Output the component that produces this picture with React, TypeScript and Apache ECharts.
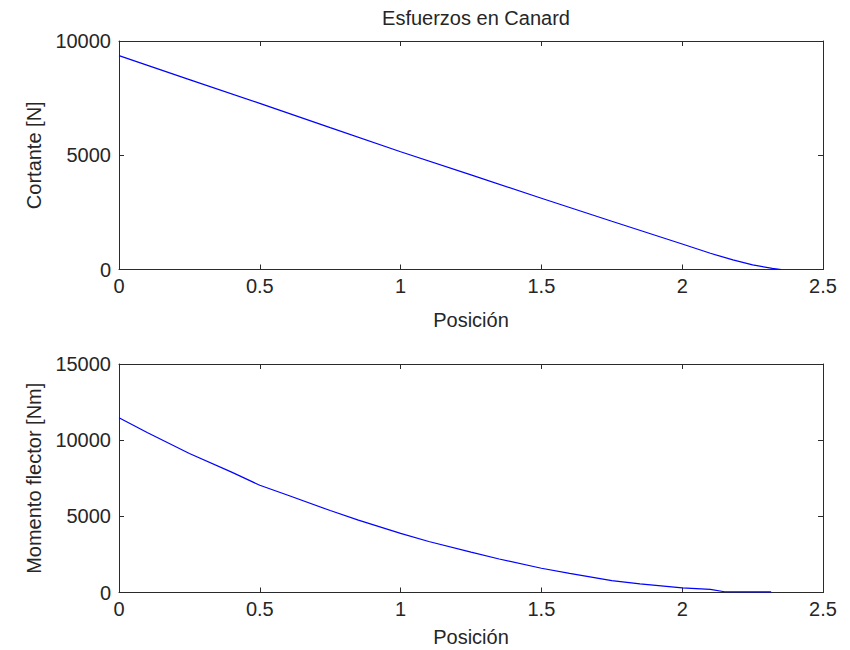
import React, { useEffect, useRef } from "react";
import * as echarts from "echarts";

const titleText = "Esfuerzos en Canard";
const xName = "Posición";
const shearName = "Cortante [N]";
const momentName = "Momento flector [Nm]";

const shearX = [0, 0.25, 0.5, 0.75, 1.0, 1.25, 1.5, 1.75, 2.0, 2.1, 2.18, 2.25, 2.32, 2.352];
const shearY = [9360, 8310, 7270, 6210, 5155, 4140, 3116, 2110, 1116, 710, 420, 200, 50, 0];

const momentX = [0, 0.1, 0.25, 0.4, 0.5, 0.6, 0.75, 0.85, 1.0, 1.1, 1.25, 1.35, 1.5, 1.6, 1.75, 1.85, 2.0, 2.1, 2.15, 2.316];
const momentY = [11470, 10500, 9120, 7900, 7040, 6385, 5380, 4750, 3880, 3350, 2650, 2200, 1590, 1250, 780, 560, 310, 200, 50, 40];

const FONT = "Liberation Sans";
const TXT = "#262626";
const AX = "#2b2b2b";

export default function App() {
  const ref = useRef<HTMLDivElement>(null);
  useEffect(() => {
    if (!ref.current) return;
    const chart = echarts.init(ref.current, null, { renderer: "svg" });
    const grids = [
      { left: 119, top: 41, width: 704, height: 228.5 },
      { left: 119, top: 364, width: 704, height: 228.5 },
    ];
    const tickStyle = { show: true, inside: true, length: 5, lineStyle: { color: AX, width: 1 } };
    const lineStyleAx = { show: true, onZero: false, lineStyle: { color: AX, width: 1 } };
    const labelStyle = { fontFamily: FONT, fontSize: 20, color: TXT };
    const xAxes: any[] = [];
    const yAxes: any[] = [];
    const yMax = [10000, 15000];
    const yNames = [shearName, momentName];
    const xNameGaps = [40, 34];
    [0, 1].forEach((g) => {
      xAxes.push({
        type: "value", gridIndex: g, position: "bottom", min: 0, max: 2.5, interval: 0.5,
        axisLine: lineStyleAx, axisTick: tickStyle, splitLine: { show: false },
        axisLabel: { ...labelStyle, margin: 6, formatter: (v: number) => String(v) },
        name: xName, nameLocation: "middle", nameGap: xNameGaps[g],
        nameTextStyle: { fontFamily: FONT, fontSize: 20, color: TXT },
      });
      xAxes.push({
        type: "value", gridIndex: g, position: "top", min: 0, max: 2.5, interval: 0.5,
        axisLine: lineStyleAx, axisTick: tickStyle, splitLine: { show: false },
        axisLabel: { show: false },
      });
      yAxes.push({
        type: "value", gridIndex: g, position: "left", min: 0, max: yMax[g], interval: 5000,
        axisLine: lineStyleAx, axisTick: tickStyle, splitLine: { show: false },
        axisLabel: { ...labelStyle, margin: 8, formatter: (v: number) => String(v) },
        name: yNames[g], nameLocation: "middle", nameGap: 64, nameRotate: 90,
        nameTextStyle: { fontFamily: FONT, fontSize: 20, color: TXT },
      });
      yAxes.push({
        type: "value", gridIndex: g, position: "right", min: 0, max: yMax[g], interval: 5000,
        axisLine: lineStyleAx, axisTick: tickStyle, splitLine: { show: false },
        axisLabel: { show: false },
      });
    });
    chart.setOption({
      animation: false,
      backgroundColor: "#ffffff",
      title: {
        text: titleText, left: 471, top: 3, textAlign: "center",
        textStyle: { fontFamily: FONT, fontSize: 20, fontWeight: "normal", color: TXT },
      },
      grid: grids,
      xAxis: xAxes,
      yAxis: yAxes,
      series: [
        {
          type: "line", xAxisIndex: 0, yAxisIndex: 0, showSymbol: false, symbol: "none",
          lineStyle: { color: "#0000ff", width: 1.2 },
          data: shearX.map((x, i) => [x, shearY[i]]),
        },
        {
          type: "line", xAxisIndex: 2, yAxisIndex: 2, showSymbol: false, symbol: "none",
          lineStyle: { color: "#0000ff", width: 1.2 },
          data: momentX.map((x, i) => [x, momentY[i]]),
        },
      ],
    });
    return () => chart.dispose();
  }, []);
  return <div ref={ref} style={{ position: "fixed", left: 0, top: 0, width: 850, height: 650 }} />;
}
